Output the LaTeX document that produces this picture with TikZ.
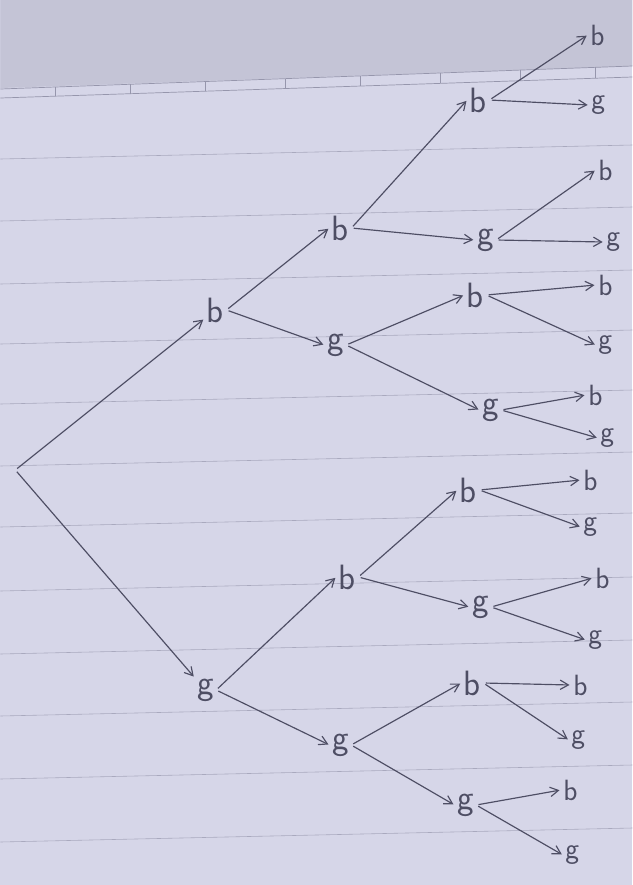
\documentclass[tikz,border=0pt]{standalone}
\usepackage{tikz}
\usetikzlibrary{arrows.meta}
\definecolor{paper}   {RGB}{214, 214, 232}
\definecolor{paperdk} {RGB}{196, 196, 214}
\definecolor{rule}    {RGB}{150, 150, 172}
\definecolor{pencil}  {RGB}{ 78,  78, 100}

\tikzset{
	lbl/.style={text=pencil,inner sep=2pt,font=\sffamily\fontsize{30}{30}\selectfont},
	leaf/.style={lbl,font=\sffamily\fontsize{25}{25}\selectfont},
	br/.style={draw=pencil,line width=1pt,-{Straight Barb[length=7pt,width=8pt]},shorten <=2pt,shorten >=1pt}
}

\begin{document}
\begin{tikzpicture}[x=0.03cm,y=-0.03cm]
	% paper
	\fill[paper] (0,0) rectangle (632,885);
	\fill[paperdk] (0,0) -- (632,0) -- (632,66) -- (0,88) -- cycle;
	\draw[rule,line width=0.6pt] (0,89) -- (632,66);
	\draw[rule,line width=0.6pt] (0,98) -- (632,77);
	\foreach \x in {55,130,205,285,360,440,520,595}
		\draw[rule,line width=0.5pt] (\x,{89-\x*23/632}) -- (\x,{98-\x*21/632});
	\foreach \y in {145,207,270,330,390,452,513,577,640,702,765,828}
		\draw[rule!70!paper,line width=0.5pt] (0,\y+14) -- (632,\y);
	\useasboundingbox (0,0) rectangle (632,885);

	% tree
	\coordinate (r) at (15,470);
	\node[lbl] (b) at (215,310) {b};
	\node[lbl] (g) at (205,690) {g};
	\node[lbl] (bb) at (340,228) {b};
	\node[lbl] (bg) at (335,345) {g};
	\node[lbl] (gb) at (347,577) {b};
	\node[lbl] (gg) at (340,745) {g};
	\node[lbl] (bbb) at (478,100) {b};
	\node[lbl] (bbg) at (485,240) {g};
	\node[lbl] (bgb) at (475,295) {b};
	\node[lbl] (bgg) at (490,410) {g};
	\node[lbl] (gbb) at (468,490) {b};
	\node[lbl] (gbg) at (480,607) {g};
	\node[lbl] (ggb) at (472,683) {b};
	\node[lbl] (ggg) at (465,805) {g};
	\node[leaf] (bbbb) at (597,35) {b};
	\node[leaf] (bbbg) at (598,105) {g};
	\node[leaf] (bbgb) at (605,170) {b};
	\node[leaf] (bbgg) at (613,242) {g};
	\node[leaf] (bgbb) at (605,285) {b};
	\node[leaf] (bgbg) at (605,345) {g};
	\node[leaf] (bggb) at (595,395) {b};
	\node[leaf] (bggg) at (607,438) {g};
	\node[leaf] (gbbb) at (590,480) {b};
	\node[leaf] (gbbg) at (590,527) {g};
	\node[leaf] (gbgb) at (602,578) {b};
	\node[leaf] (gbgg) at (595,640) {g};
	\node[leaf] (ggbb) at (580,685) {b};
	\node[leaf] (ggbg) at (578,740) {g};
	\node[leaf] (gggb) at (570,790) {b};
	\node[leaf] (gggg) at (572,855) {g};

	\draw[br] (r) -- (b);
	\draw[br] (r) -- (g);
	\foreach \p in {b,g,bb,bg,gb,gg,bbb,bbg,bgb,bgg,gbb,gbg,ggb,ggg} {
		\draw[br] (\p.east) -- (\p b.west);
		\draw[br] (\p.east) -- (\p g.west);
	}
\end{tikzpicture}
\end{document}
